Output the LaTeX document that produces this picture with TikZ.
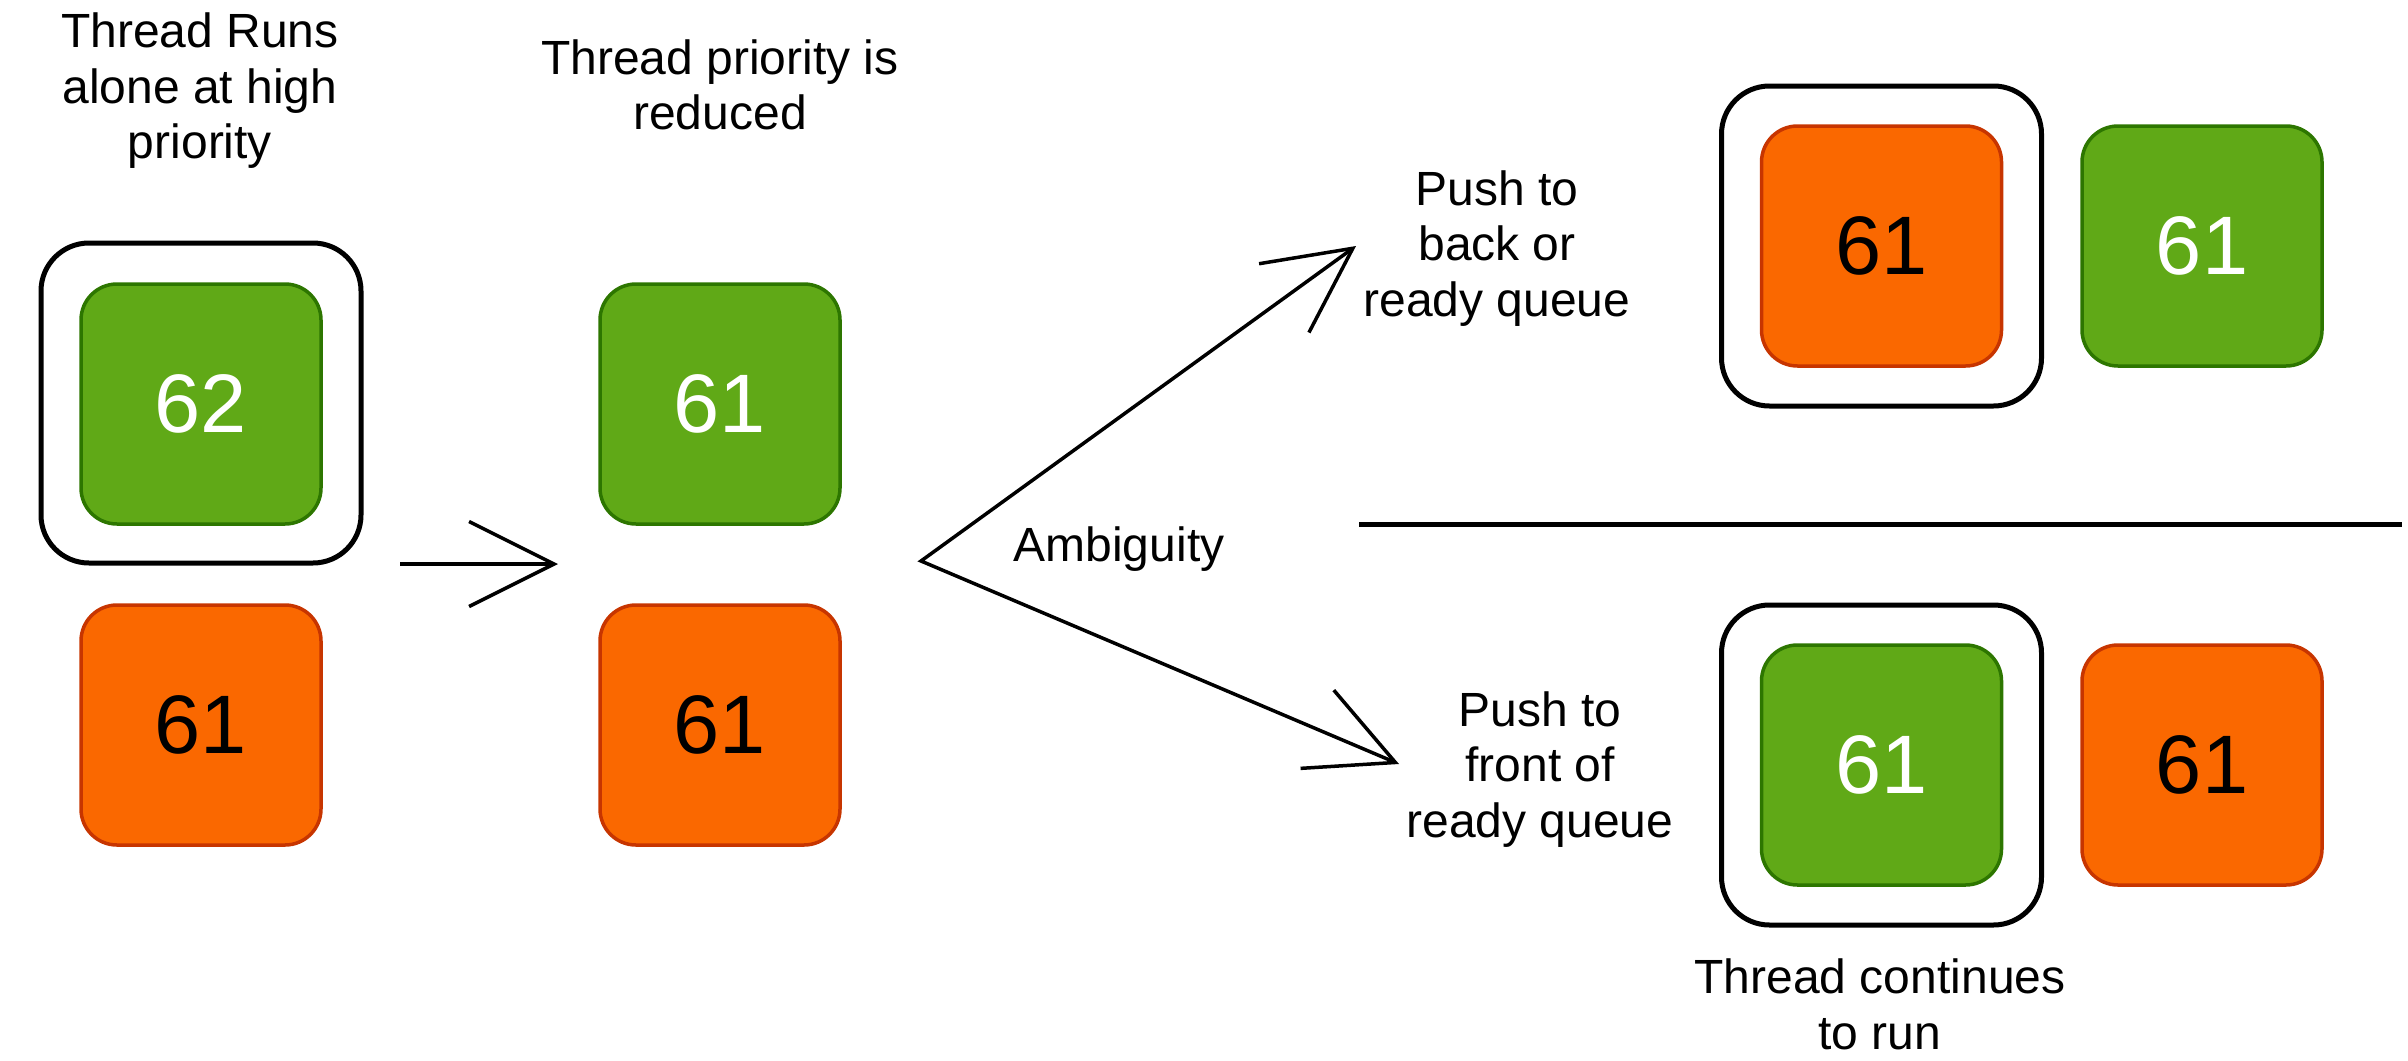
\documentclass[tikz,border=0pt]{standalone}
\usepackage{fontspec}
\setmainfont{Liberation Sans}
\usetikzlibrary{arrows.meta}
\definecolor{gfill}{HTML}{60A917}
\definecolor{gdraw}{HTML}{2D7600}
\definecolor{ofill}{HTML}{FA6800}
\definecolor{odraw}{HTML}{C73500}
\begin{document}
\begin{tikzpicture}[x=1pt,y=-1pt,
  thr/.style={rounded corners=36pt, minimum width=240pt, minimum height=240pt, line width=3.5pt, inner sep=0pt, font=\fontsize{83}{90}\selectfont},
  gth/.style={thr, fill=gfill, draw=gdraw, text=white},
  oth/.style={thr, fill=ofill, draw=odraw, text=black},
  runbox/.style={draw=black, line width=5pt, rounded corners=48pt, minimum width=320pt, minimum height=320pt, inner sep=0pt},
  lbl/.style={align=center, inner sep=0pt, anchor=base, font=\fontsize{48}{55.5}\selectfont},
  barb/.tip={Straight Barb[length=85pt,width=85pt]},
  conn/.style={line width=3.5pt, -barb},
  fork/.style={line width=3.5pt, barb-barb},
  divider/.style={line width=5pt}
]
\useasboundingbox (0,0) rectangle (2408,1060);
% left column
\node[runbox] (runL) at (201,403) {};
\node[gth] (g62) at (201,404) {62};
\node[oth] (oL) at (201,725) {61};
% middle column
\node[gth] (gM) at (720,404) {61};
\node[oth] (oM) at (720,725) {61};
% upper right
\node[runbox] (runU) at (1881.5,246) {};
\node[oth] (oU) at (1881.5,246) {61};
\node[gth] (gU) at (2202,246) {61};
% lower right
\node[runbox] (runD) at (1881.5,765) {};
\node[gth] (gD) at (1881.5,765) {61};
\node[oth] (oD) at (2202,765) {61};
% labels (anchor base = baseline of last line)
\node[lbl] (t1) at (200,158.5) {Thread Runs\\alone at high\\priority};
\node[lbl] (t2) at (720,129.5) {Thread priority is\\reduced};
\node[lbl] (tamb) at (1119,561) {Ambiguity};
\node[lbl] (tback) at (1497,316) {Push to\\back or\\ready queue};
\node[lbl] (tfront) at (1540,837) {Push to\\front of\\ready queue};
\node[lbl] (tcont) at (1880,1049) {Thread continues\\to run};
% connectors
\coordinate (a1s) at (400,564);
\coordinate (a1e) at (558,564);
\draw[conn] (a1s) -- (a1e);
\coordinate (amb) at (921,561);
\coordinate (upTip) at (1356,246);
\coordinate (loTip) at (1399,764);
\draw[fork] (upTip) -- (amb) -- (loTip);
\coordinate (divL) at (1359,524);
\coordinate (divR) at (2402,524);
\draw[divider] (divL) -- (divR);
\end{tikzpicture}
\end{document}
